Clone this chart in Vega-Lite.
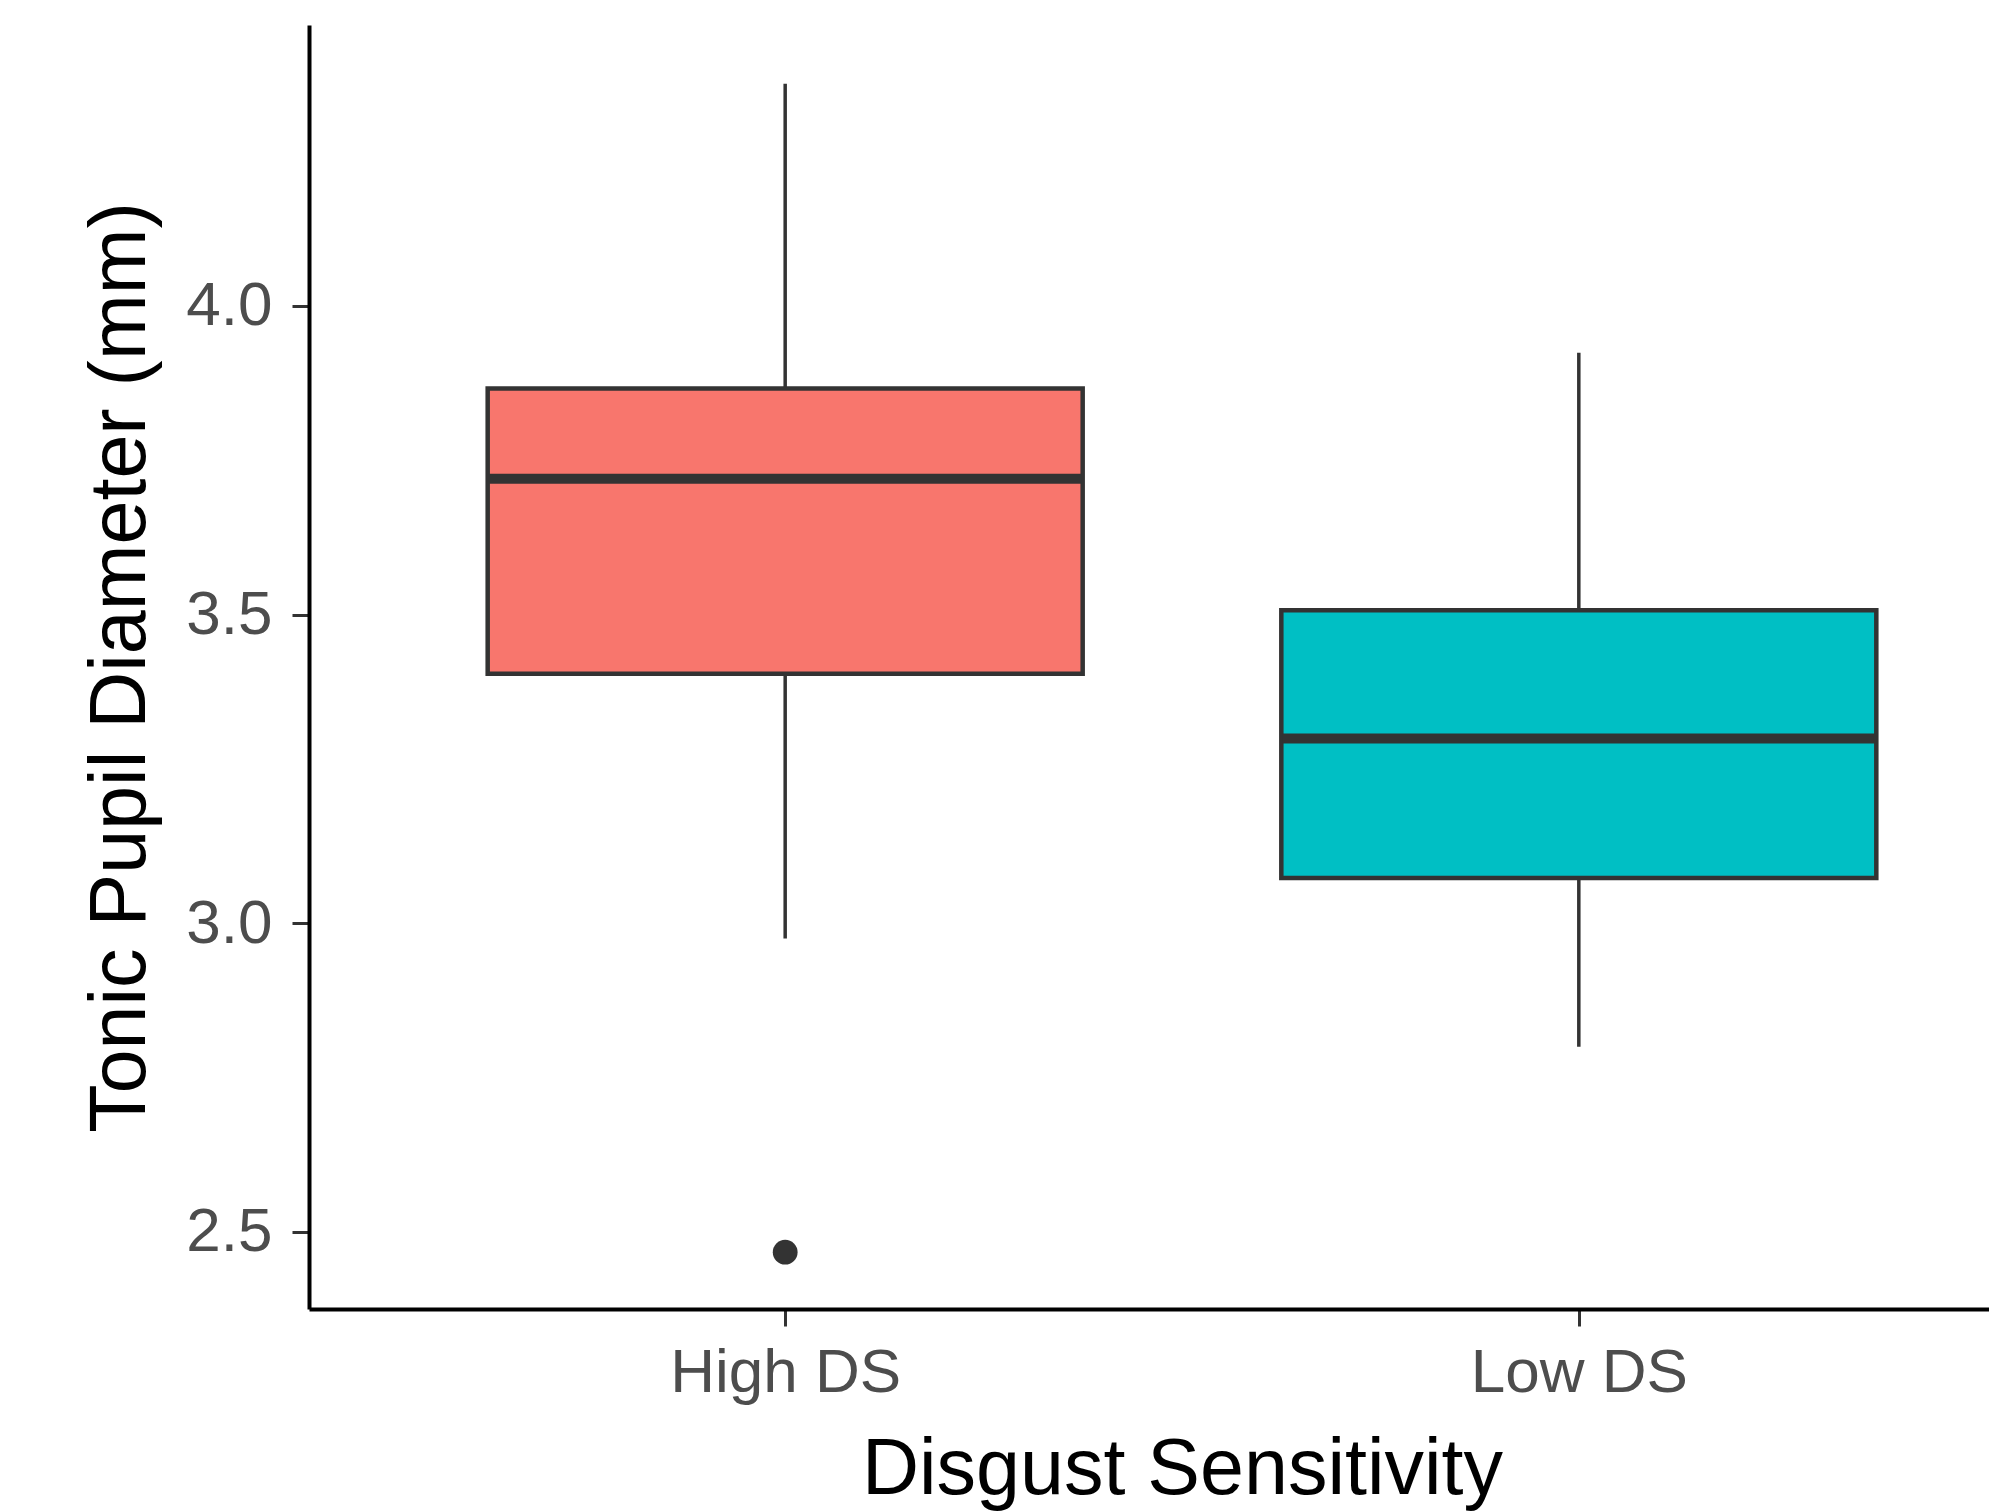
{
  "$schema": "https://vega.github.io/schema/vega-lite/v6.json",
  "autosize": "none",
  "width": 1680,
  "height": 1284,
  "padding": {"left": 309, "top": 25, "right": 0, "bottom": 203},
  "background": "white",
  "config": {
    "view": {"stroke": null},
    "font": "Liberation Sans",
    "axis": {
      "labelFont": "Liberation Sans",
      "titleFont": "Liberation Sans",
      "labelFontSize": 62,
      "titleFontSize": 79,
      "titleFontWeight": "normal",
      "labelColor": "#4d4d4d",
      "titleColor": "#000000",
      "domainColor": "#000000",
      "domainWidth": 4,
      "tickColor": "#333333",
      "tickWidth": 3,
      "tickSize": 17,
      "labelLimit": 0,
      "grid": false
    }
  },
  "datasets": {
    "stats": [
      {"group": "High DS", "lower": 2.975, "q1": 3.404, "median": 3.72, "q3": 3.866, "upper": 4.36},
      {"group": "Low DS", "lower": 2.80, "q1": 3.073, "median": 3.299, "q3": 3.507, "upper": 3.924}
    ],
    "outliers": [
      {"group": "High DS", "value": 2.467}
    ]
  },
  "encoding": {
    "x": {
      "field": "group",
      "type": "nominal",
      "scale": {"type": "point", "domain": ["High DS", "Low DS"], "range": [0, 1746], "padding": 0.6},
      "axis": {
        "title": "Disgust Sensitivity",
        "labelAngle": 0,
        "labelPadding": 16,
        "titleY": 184,
        "titleBaseline": "alphabetic"
      }
    }
  },
  "layer": [
    {
      "data": {"name": "stats"},
      "mark": {"type": "rule", "color": "#333333", "strokeWidth": 3.5},
      "encoding": {
        "y": {
          "field": "lower",
          "type": "quantitative",
          "scale": {"domain": [2.375, 4.455], "nice": false, "zero": false},
          "axis": {
            "title": "Tonic Pupil Diameter (mm)",
            "values": [2.5, 3.0, 3.5, 4.0],
            "format": ".1f",
            "labelPadding": 20,
            "titleX": -165,
            "titleBaseline": "alphabetic",
            "titleAngle": -90
          }
        },
        "y2": {"field": "upper"}
      }
    },
    {
      "data": {"name": "stats"},
      "mark": {"type": "bar", "size": 595, "stroke": "#333333", "strokeWidth": 4.5},
      "encoding": {
        "y": {"field": "q1", "type": "quantitative"},
        "y2": {"field": "q3"},
        "fill": {
          "field": "group",
          "type": "nominal",
          "scale": {"domain": ["High DS", "Low DS"], "range": ["#F8766D", "#00BFC4"]},
          "legend": null
        }
      }
    },
    {
      "data": {"name": "stats"},
      "mark": {"type": "tick", "color": "#333333", "thickness": 10, "size": 592, "opacity": 1},
      "encoding": {
        "y": {"field": "median", "type": "quantitative"}
      }
    },
    {
      "data": {"name": "outliers"},
      "mark": {"type": "circle", "color": "#333333", "size": 615, "opacity": 1},
      "encoding": {
        "y": {"field": "value", "type": "quantitative"}
      }
    }
  ]
}
